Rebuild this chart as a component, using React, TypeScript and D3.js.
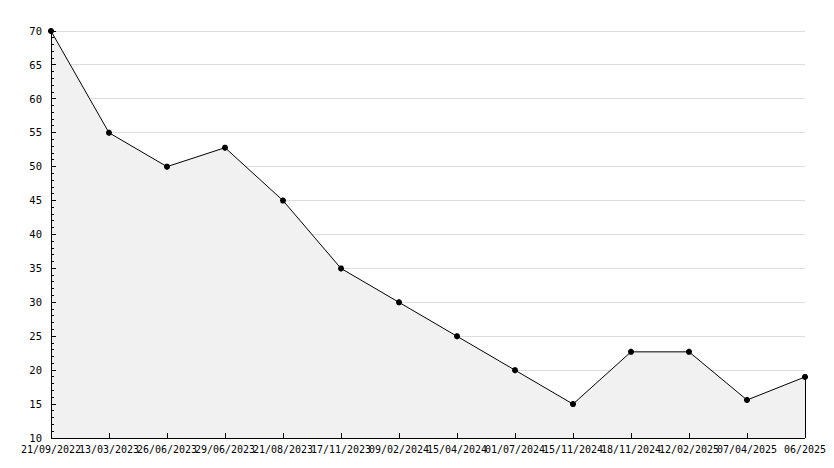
import React from "react";
import * as d3 from "d3";

const categories = [
  "21/09/2022", "13/03/2023", "26/06/2023", "29/06/2023", "21/08/2023",
  "17/11/2023", "09/02/2024", "15/04/2024", "01/07/2024", "15/11/2024",
  "18/11/2024", "12/02/2025", "07/04/2025", "06/2025",
];
const values = [70, 55, 50, 52.8, 45, 35, 30, 25, 20, 15, 22.7, 22.7, 15.6, 19];
const yTicks = [10, 15, 20, 25, 30, 35, 40, 45, 50, 55, 60, 65, 70];

const W = 834, H = 468;
const left = 51, right = 805, top = 31, bottom = 438;

export default function App() {
  const x = d3.scalePoint<string>().domain(categories).range([left, right]);
  const y = d3.scaleLinear().domain([10, 70]).range([bottom, top]);
  const data = categories.map((c, i) => ({ c, v: values[i] }));
  const area = d3.area<{ c: string; v: number }>()
    .x(d => x(d.c)!).y0(bottom).y1(d => y(d.v));
  const line = d3.line<{ c: string; v: number }>()
    .x(d => x(d.c)!).y(d => y(d.v));
  const minor = d3.range(10, 71, 1).filter(v => v % 5 !== 0);
  const font = "'DejaVu Sans Mono', monospace";
  const mark = d3.symbol().type(d3.symbolCross).size(20)()!;
  return (
    <svg width={W} height={H} style={{ position: "absolute", left: 0, top: 0, background: "#fff" }}>
      {yTicks.filter(v => v > 10).map(v => (
        <line key={v} x1={left} x2={right} y1={y(v)} y2={y(v)} stroke="#dddddd" strokeWidth={1} shapeRendering="crispEdges" />
      ))}
      <path d={area(data)!} fill="#f1f1f1" stroke="none" />
      <path d={line(data)!} fill="none" stroke="#000" strokeWidth={1} />
      <line x1={right} x2={right} y1={y(values[values.length - 1])} y2={bottom} stroke="#000" shapeRendering="crispEdges" />
      {data.map(d => (
        <g key={d.c} transform={`translate(${x(d.c)},${y(d.v)})`}>
          <path d={mark} fill="#000" />
          <path d={mark} fill="#000" transform="rotate(45)" />
        </g>
      ))}
      <line x1={left} x2={left} y1={top - 1} y2={bottom} stroke="#000" shapeRendering="crispEdges" />
      <line x1={left} x2={right} y1={bottom} y2={bottom} stroke="#000" shapeRendering="crispEdges" />
      {yTicks.map(v => (
        <g key={v}>
          <line x1={left} x2={left + 5} y1={y(v)} y2={y(v)} stroke="#000" shapeRendering="crispEdges" />
          <text x={42} y={y(v)} dy="0.35em" textAnchor="end" fontFamily={font} fontSize={10.5} fill="#000">{v}</text>
        </g>
      ))}
      {minor.map(v => (
        <line key={v} x1={left} x2={left + 3} y1={y(v)} y2={y(v)} stroke="#000" shapeRendering="crispEdges" />
      ))}
      {categories.map(c => (
        <g key={c}>
          <line x1={x(c)} x2={x(c)} y1={bottom} y2={bottom - 5} stroke="#000" shapeRendering="crispEdges" />
          <text x={x(c)} y={453} textAnchor="middle" fontFamily={font} fontSize={10} fill="#000">{c}</text>
        </g>
      ))}
    </svg>
  );
}
